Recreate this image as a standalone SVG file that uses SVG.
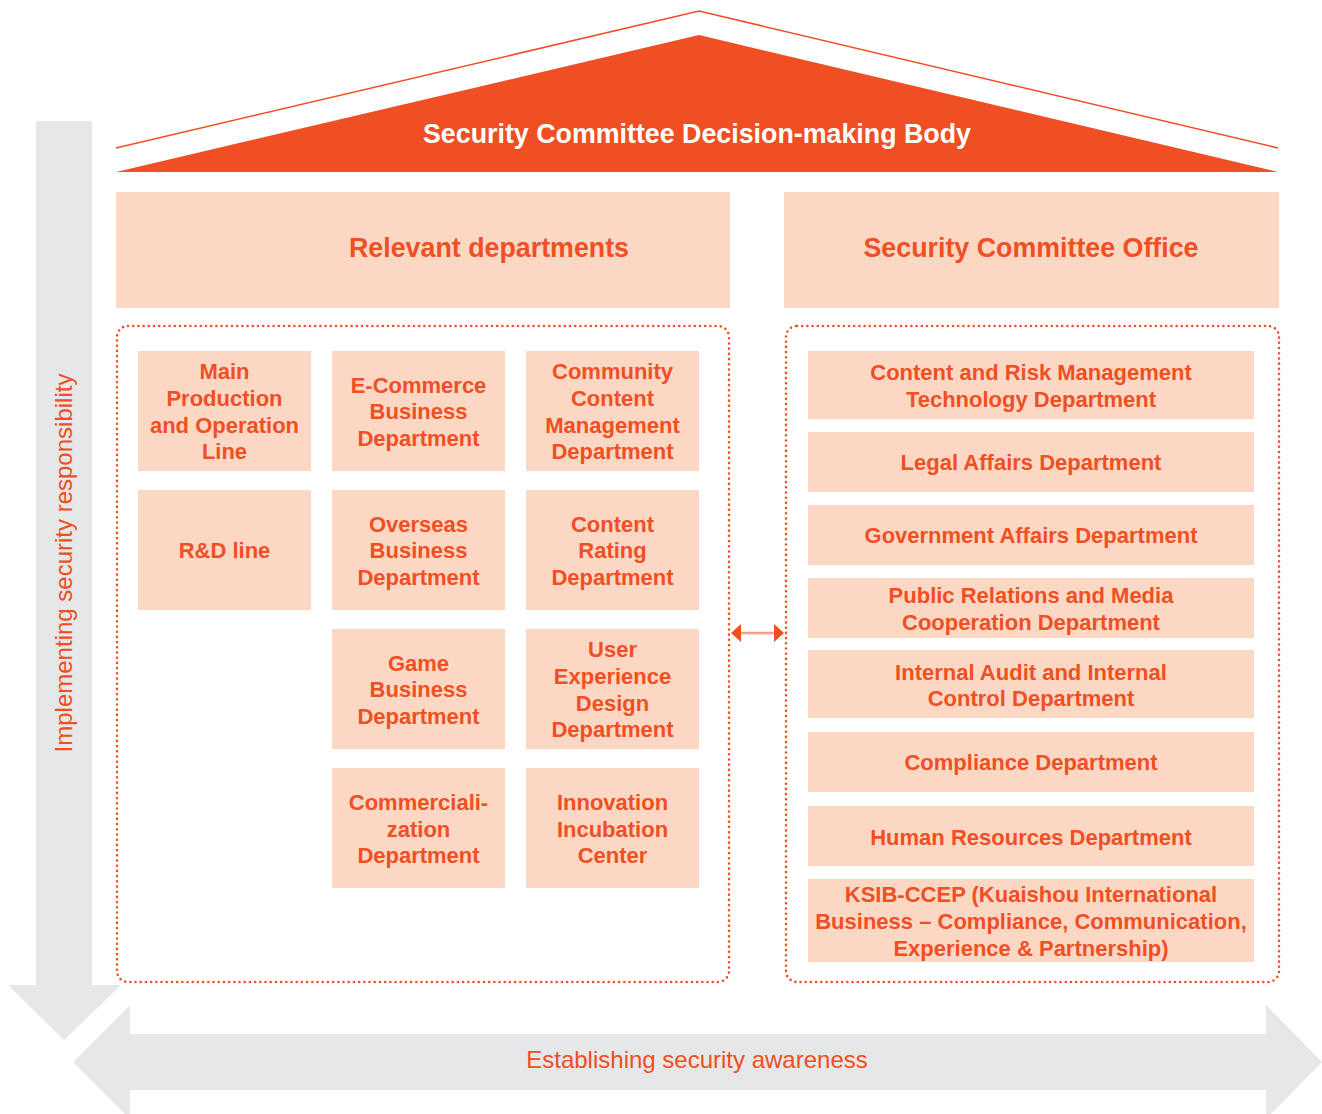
<svg xmlns="http://www.w3.org/2000/svg" width="1322" height="1114" viewBox="0 0 1322 1114">
<style>
.gray{fill:#E6E7E8}
.peach{fill:#FCD8C4}
.frame{fill:none;stroke:#F04E23;stroke-width:2.6;stroke-dasharray:0 5.2;stroke-linecap:round}
.t{font-family:"Liberation Sans",Arial,sans-serif;font-weight:bold;fill:#F04E23;text-anchor:middle;font-size:22px}
.h{font-family:"Liberation Sans",Arial,sans-serif;font-weight:bold;fill:#F04E23;text-anchor:middle;font-size:26.8px}
.l{font-family:"Liberation Sans",Arial,sans-serif;fill:#F04E23;text-anchor:middle;font-size:24px}
</style>
<rect width="1322" height="1114" fill="#fff"/>
<g id="axis-vertical">
<polygon class="gray" points="36,121 92,121 92,985 121,985 64,1040 8,985 36,985"/>
<text class="l" transform="translate(72,563) rotate(-90)">Implementing security responsibility</text>
</g>
<g id="axis-horizontal">
<polygon class="gray" points="73,1062 130,1005 130,1034 1266,1034 1266,1005 1322,1062 1266,1119 1266,1090 130,1090 130,1119"/>
<text class="l" x="697" y="1068">Establishing security awareness</text>
</g>
<g id="roof">
<polyline points="116,148 699,11 1278,148" fill="none" stroke="#F04E23" stroke-width="1.5"/>
<polygon points="116,172 699,35 1278,172" fill="#F04E23"/>
<text class="h" x="697" y="143" style="fill:#fff">Security Committee Decision-making Body</text>
</g>
<g id="relevant-departments">
<rect class="peach" x="116" y="192" width="614" height="116"/>
<text class="h" x="489" y="257">Relevant departments</text>
</g>
<g id="security-committee-office">
<rect class="peach" x="784" y="192" width="495" height="116"/>
<text class="h" x="1031" y="257">Security Committee Office</text>
</g>
<g id="frames">
<rect class="frame" x="117" y="326" width="612" height="656" rx="11"/>
<rect class="frame" x="786" y="326" width="493" height="656" rx="11"/>
</g>
<g id="left-nodes">
<g id="n-main"><rect class="peach" x="138" y="351" width="173" height="120"/><text class="t" x="224.5"><tspan x="224.5" y="379">Main</tspan><tspan x="224.5" y="406">Production</tspan><tspan x="224.5" y="433">and Operation</tspan><tspan x="224.5" y="459">Line</tspan></text></g>
<g id="n-ecom"><rect class="peach" x="332" y="351" width="173" height="120"/><text class="t"><tspan x="418.5" y="393">E-Commerce</tspan><tspan x="418.5" y="419">Business</tspan><tspan x="418.5" y="446">Department</tspan></text></g>
<g id="n-community"><rect class="peach" x="526" y="351" width="173" height="120"/><text class="t"><tspan x="612.5" y="379">Community</tspan><tspan x="612.5" y="406">Content</tspan><tspan x="612.5" y="433">Management</tspan><tspan x="612.5" y="459">Department</tspan></text></g>
<g id="n-rd"><rect class="peach" x="138" y="490" width="173" height="120"/><text class="t" x="224.5" y="558">R&amp;D line</text></g>
<g id="n-overseas"><rect class="peach" x="332" y="490" width="173" height="120"/><text class="t"><tspan x="418.5" y="532">Overseas</tspan><tspan x="418.5" y="558">Business</tspan><tspan x="418.5" y="585">Department</tspan></text></g>
<g id="n-rating"><rect class="peach" x="526" y="490" width="173" height="120"/><text class="t"><tspan x="612.5" y="532">Content</tspan><tspan x="612.5" y="558">Rating</tspan><tspan x="612.5" y="585">Department</tspan></text></g>
<g id="n-game"><rect class="peach" x="332" y="629" width="173" height="120"/><text class="t"><tspan x="418.5" y="671">Game</tspan><tspan x="418.5" y="697">Business</tspan><tspan x="418.5" y="724">Department</tspan></text></g>
<g id="n-ux"><rect class="peach" x="526" y="629" width="173" height="120"/><text class="t"><tspan x="612.5" y="657">User</tspan><tspan x="612.5" y="684">Experience</tspan><tspan x="612.5" y="711">Design</tspan><tspan x="612.5" y="737">Department</tspan></text></g>
<g id="n-commercial"><rect class="peach" x="332" y="768" width="173" height="120"/><text class="t"><tspan x="418.5" y="810">Commerciali-</tspan><tspan x="418.5" y="837">zation</tspan><tspan x="418.5" y="863">Department</tspan></text></g>
<g id="n-innovation"><rect class="peach" x="526" y="768" width="173" height="120"/><text class="t"><tspan x="612.5" y="810">Innovation</tspan><tspan x="612.5" y="837">Incubation</tspan><tspan x="612.5" y="863">Center</tspan></text></g>
</g>
<g id="right-nodes">
<g id="r-content"><rect class="peach" x="808" y="351" width="446" height="68"/><text class="t"><tspan x="1031" y="380">Content and Risk Management</tspan><tspan x="1031" y="407">Technology Department</tspan></text></g>
<g id="r-legal"><rect class="peach" x="808" y="432" width="446" height="60"/><text class="t" x="1031" y="470">Legal Affairs Department</text></g>
<g id="r-gov"><rect class="peach" x="808" y="505" width="446" height="60"/><text class="t" x="1031" y="543">Government Affairs Department</text></g>
<g id="r-pr"><rect class="peach" x="808" y="578" width="446" height="60"/><text class="t"><tspan x="1031" y="603">Public Relations and Media</tspan><tspan x="1031" y="630">Cooperation Department</tspan></text></g>
<g id="r-audit"><rect class="peach" x="808" y="650" width="446" height="68"/><text class="t"><tspan x="1031" y="680">Internal Audit and Internal</tspan><tspan x="1031" y="706">Control Department</tspan></text></g>
<g id="r-compliance"><rect class="peach" x="808" y="732" width="446" height="60"/><text class="t" x="1031" y="770">Compliance Department</text></g>
<g id="r-hr"><rect class="peach" x="808" y="806" width="446" height="60"/><text class="t" x="1031" y="845">Human Resources Department</text></g>
<g id="r-ksib"><rect class="peach" x="808" y="879" width="446" height="83"/><text class="t"><tspan x="1031" y="902">KSIB-CCEP (Kuaishou International</tspan><tspan x="1031" y="929">Business – Compliance, Communication,</tspan><tspan x="1031" y="956">Experience &amp; Partnership)</tspan></text></g>
</g>
<g id="connectors">
<line x1="738" y1="633" x2="777" y2="633" stroke="#F7A088" stroke-width="2.5"/>
<polygon points="731,633 741,624 741,642" fill="#F04E23"/>
<polygon points="784,633 774,624 774,642" fill="#F04E23"/>
</g>
</svg>
